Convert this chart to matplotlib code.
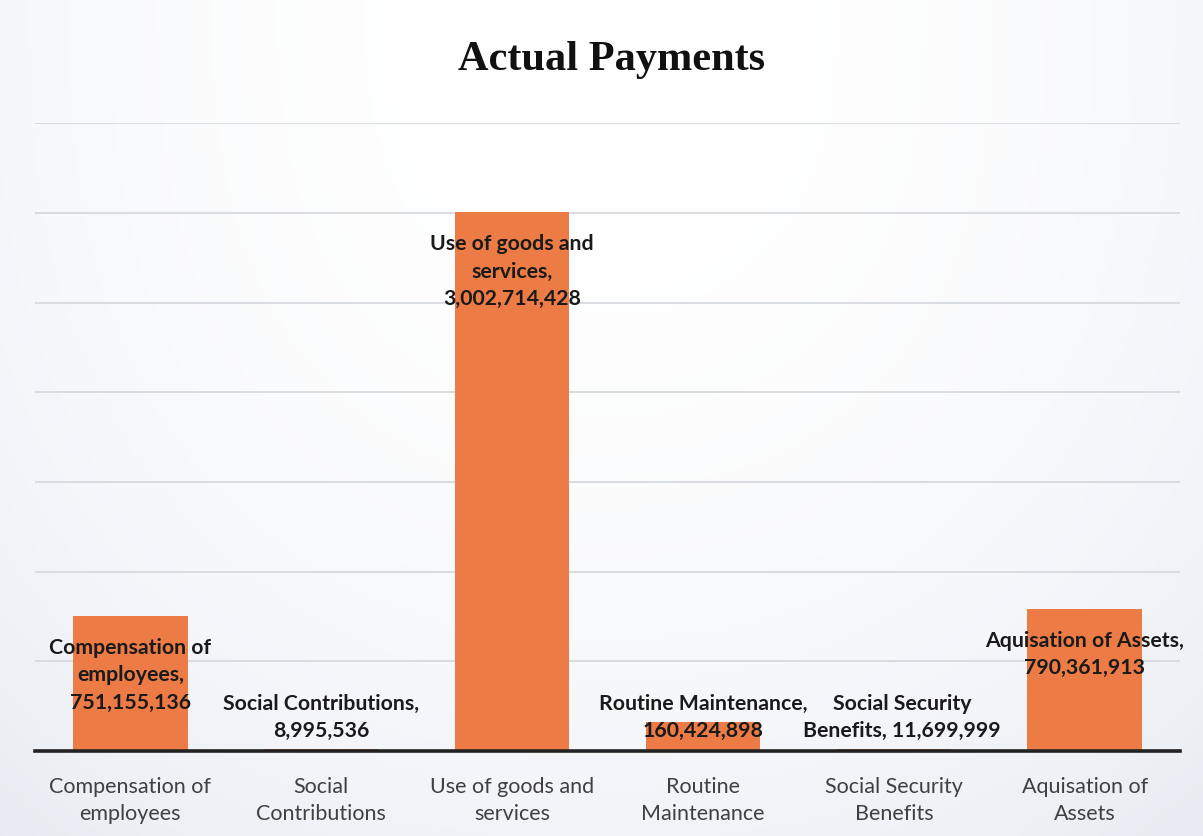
import numpy as np
import matplotlib.pyplot as plt

categories = ["Compensation of\nemployees", "Social\nContributions",
              "Use of goods and\nservices", "Routine\nMaintenance",
              "Social Security\nBenefits", "Aquisation of\nAssets"]
label_names = ["Compensation of\nemployees,", "Social Contributions,",
               "Use of goods and\nservices,", "Routine Maintenance,",
               "Social Security\nBenefits,", "Aquisation of Assets,"]
values = [751155136, 8995536, 3002714428, 160424898, 11699999, 790361913]

bar_color = "#EC7B45"
label_font = "Lato"

fig = plt.figure(figsize=(12.03, 8.37), dpi=100)

# soft paper-like backdrop: whiter in the middle, greyish towards edges and bottom
bg = fig.add_axes([0, 0, 1, 1], zorder=-10)
yy, xx = np.mgrid[0:1:200j, 0:1:300j]
shade = 0.35 * np.abs(xx - 0.5) ** 2.2 * 4 + 0.45 * yy ** 2.5
shade = np.clip(shade, 0, 1)
white = np.array([1.0, 1.0, 1.0])
grey = np.array([0.88, 0.90, 0.93])
img = white + shade[..., None] * (grey - white)
bg.imshow(img, extent=[0, 1, 0, 1], aspect="auto", origin="upper")
bg.axis("off")

ax = fig.add_axes([0.029, 0.1015, 0.952, 0.75])
ax.patch.set_alpha(0)
x = np.arange(len(values))
ax.bar(x, values, width=0.6, color=bar_color, zorder=2)

ax.set_xlim(-0.5, len(values) - 0.5)
ax.set_ylim(0, 3.5e9)
ax.set_yticks(np.arange(0, 3.51e9, 0.5e9))
ax.yaxis.grid(True, color="#d6d9dd", linewidth=1.3, zorder=0)
ax.tick_params(axis="y", left=False, labelleft=False)
ax.tick_params(axis="x", length=0, pad=18)
ax.set_xticks(x)
ax.set_xticklabels(categories, fontsize=15.5, color="#404040",
                   family=label_font, linespacing=1.45)
for side in ["top", "left", "right"]:
    ax.spines[side].set_visible(False)
ax.spines["bottom"].set_color("#222222")
ax.spines["bottom"].set_linewidth(2.6)
ax.spines["bottom"].set_zorder(3)

# data labels: inside the top of tall bars, just above the axis for short ones
for xi, v, name in zip(x, values, label_names):
    if "Security" in name:
        text = f"{name} {v:,}"
        dx = 6
    else:
        text = f"{name}\n{v:,}"
        dx = 0
    style = dict(fontsize=15.3, fontweight="bold", family=label_font,
                 color="#1a1a1a", linespacing=1.45, zorder=4,
                 textcoords="offset points", ha="center")
    if v > 5e8:
        ax.annotate(text, (xi, v), xytext=(dx, -15), va="top", **style)
    else:
        ax.annotate(text, (xi, 0), xytext=(dx, 8), va="bottom", **style)

fig.text(0.508, 0.928, "Actual Payments", ha="center", va="center",
         fontsize=30.5, fontweight="bold", family="Liberation Serif",
         color="#111111")

fig.savefig("out.png", dpi=100)
